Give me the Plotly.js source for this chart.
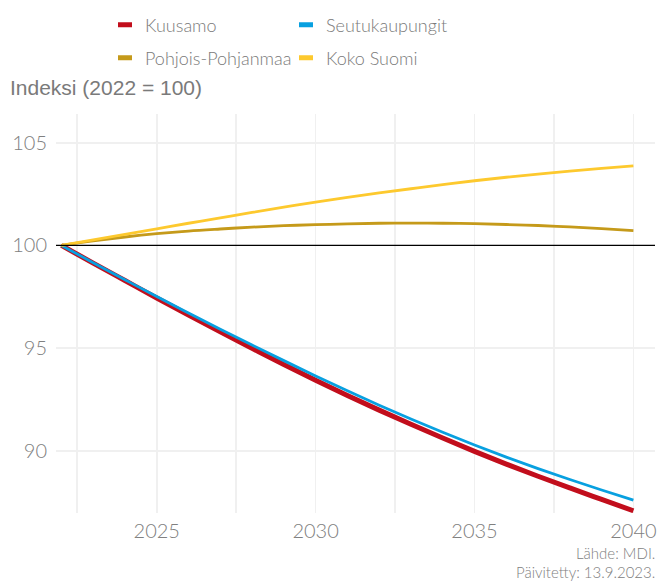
<!DOCTYPE html>
<html>
<head>
<meta charset="utf-8">
<script src="https://cdn.plot.ly/plotly-3.0.1.min.js"></script>
<style>html,body{margin:0;padding:0;background:#fff;}#chart{width:657px;height:583px;}</style>
</head>
<body>
<div id="chart"></div>
<script>
const years = [2022,2023,2024,2025,2026,2027,2028,2029,2030,2031,2032,2033,2034,2035,2036,2037,2038,2039,2040];
const kuusamo = [100,99.14,98.29,97.44,96.61,95.79,94.99,94.20,93.43,92.69,91.98,91.29,90.62,89.97,89.35,88.76,88.19,87.63,87.08];
const seutukaupungit = [100,99.16,98.33,97.51,96.71,95.92,95.15,94.39,93.64,92.92,92.22,91.55,90.90,90.28,89.69,89.13,88.60,88.09,87.60];
const pohjoisPohjanmaa = [100,100.22,100.41,100.57,100.70,100.80,100.89,100.96,101.01,101.05,101.08,101.09,101.08,101.06,101.02,100.97,100.90,100.82,100.72];
const kokoSuomi = [100,100.27,100.54,100.81,101.08,101.345,101.605,101.86,102.11,102.34,102.555,102.76,102.96,103.15,103.32,103.475,103.62,103.75,103.87];
const seriesNames = ['Kuusamo','Seutukaupungit','Pohjois-Pohjanmaa','Koko Suomi'];
const xTicks = [2025,2030,2035,2040];
const yTicks = [90,95,100,105];
const baseline = 100;
const titleText = 'Indeksi (2022 = 100)';
const sourceText = 'Lähde: MDI.';
const updatedText = 'Päivitetty: 13.9.2023.';

const colors = ['#c20e1c','#08a0e0','#c59a1a','#fdc92e'];
const widths = [5,2.8,2.8,2.8];
const seriesData = [kuusamo, seutukaupungit, pohjoisPohjanmaa, kokoSuomi];
const legendIds = ['legend','legend','legend2','legend2'];

const traces = [];
seriesData.forEach((vals,i)=>{
  traces.push({x: years, y: vals, type:'scatter', mode:'lines', name: seriesNames[i],
    line:{color: colors[i], width: widths[i], shape:'spline', smoothing:1}, showlegend:false, hoverinfo:'skip'});
});
seriesData.forEach((vals,i)=>{
  traces.push({x:[null], y:[null], type:'scatter', mode:'markers', name: seriesNames[i],
    legend: legendIds[i],
    marker:{symbol:'line-ew', size:10, color: colors[i], line:{color: colors[i], width:5}},
    showlegend:true, hoverinfo:'skip'});
});

const tickFont = {family:'Lato, sans-serif', size:20, color:'#808080', weight:300};
const legFont = {family:'Lato, sans-serif', size:18, color:'#7a7a7a', weight:300};
const capFont = {family:'Lato, sans-serif', size:15, color:'#808080', weight:300};
const gridColor = '#f0f0f0';

const layout = {
  width:657, height:583,
  margin:{l:56, r:2, t:114, b:70},
  paper_bgcolor:'#fff', plot_bgcolor:'#fff',
  title:{text:titleText, xref:'container', yref:'container', x:10/657, xanchor:'left', y:1-88/583, yanchor:'middle',
    font:{family:'Liberation Sans, Arial, sans-serif', size:21, color:'#7a7a7a'}},
  xaxis:{range:[2021.83,2040.68], tickvals:xTicks, ticktext:xTicks.map(String), showgrid:true, gridcolor:gridColor, gridwidth:1.6,
    zeroline:false, showline:false, ticks:'', tickfont:tickFont, ticklabelstandoff:4,
    minor:{tickvals:[2022.5,2027.5,2032.5,2037.5], showgrid:true, gridcolor:gridColor, gridwidth:1.6}},
  yaxis:{range:[86.97,106.40], tickvals:yTicks, ticktext:yTicks.map(String), showgrid:true, gridcolor:gridColor, gridwidth:1.6,
    zeroline:false, showline:false, ticks:'', tickfont:tickFont, ticklabelstandoff:8},
  shapes:[{type:'line', xref:'paper', x0:0, x1:1, yref:'y', y0:baseline, y1:baseline, line:{color:'#000', width:1.3}, layer:'above'}],
  legend:{orientation:'h', xref:'container', yref:'container', x:105/657, xanchor:'left', y:1-25/583, yanchor:'middle',
    entrywidth:136, entrywidthmode:'pixels', font:legFont, bgcolor:'rgba(0,0,0,0)', borderwidth:0},
  legend2:{orientation:'h', xref:'container', yref:'container', x:105/657, xanchor:'left', y:1-58/583, yanchor:'middle',
    entrywidth:136, entrywidthmode:'pixels', font:legFont, bgcolor:'rgba(0,0,0,0)', borderwidth:0},
  annotations:[
    {text:sourceText, xref:'paper', yref:'paper', x:1.004, xanchor:'right', y:(513-553)/399, yanchor:'middle', showarrow:false, font:capFont},
    {text:updatedText, xref:'paper', yref:'paper', x:1.004, xanchor:'right', y:(513-572)/399, yanchor:'middle', showarrow:false, font:capFont}
  ],
  showlegend:true
};
Plotly.newPlot('chart', traces, layout, {displayModeBar:false, staticPlot:true});
</script>
</body>
</html>
